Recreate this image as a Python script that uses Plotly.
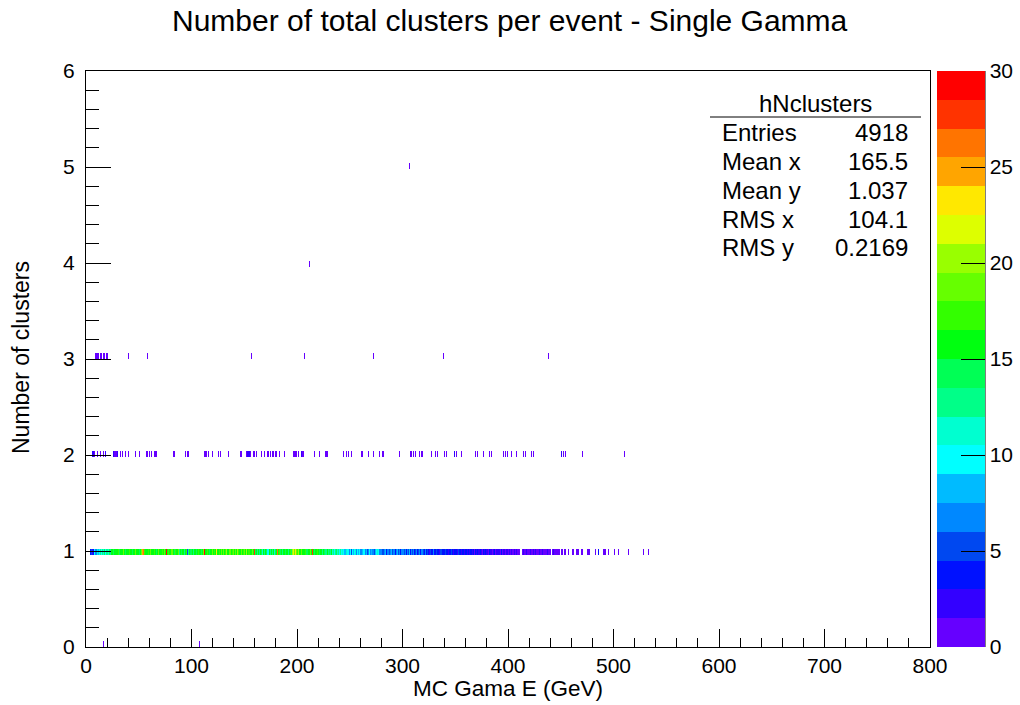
import numpy as np
import plotly.graph_objects as go

# Histogram binning: 1-GeV bins in energy, 0.06-wide bins in cluster multiplicity
E_LO, E_HI, E_NBINS = 0, 800, 800
N_LO, N_HI, N_NBINS = 0, 6, 100

# Entries per 1-GeV bin for events with exactly one cluster (bin i covers [i, i+1) GeV)
one_cluster_counts = [
    0, 0, 0, 0, 3, 5, 2, 4, 9, 6,            # 0-9
    11, 8, 10, 12, 9, 13, 11, 14, 10, 12,    # 10-19
    13, 11, 14, 12, 15, 16, 14, 16, 15, 16,  # 20-29
    17, 14, 16, 15, 15, 18, 16, 14, 16, 15,  # 30-39
    15, 17, 16, 15, 14, 16, 18, 15, 16, 16,  # 40-49
    14, 16, 19, 24, 26, 17, 16, 15, 15, 17,  # 50-59
    16, 18, 16, 15, 17, 16, 14, 16, 19, 16,  # 60-69
    16, 15, 17, 16, 18, 16, 29, 16, 17, 15,  # 70-79
    16, 19, 16, 14, 17, 16, 15, 18, 13, 16,  # 80-89
    14, 16, 15, 12, 16, 17, 5, 13, 15, 14,   # 90-99
    16, 13, 16, 15, 14, 16, 17, 15, 16, 14,  # 100-109
    16, 18, 30, 16, 15, 17, 16, 14, 16, 18,  # 110-119
    16, 17, 15, 23, 16, 16, 17, 15, 18, 16,  # 120-129
    19, 16, 17, 20, 16, 15, 18, 16, 17, 19,  # 130-139
    16, 18, 16, 20, 17, 15, 16, 19, 16, 17,  # 140-149
    18, 16, 20, 16, 17, 15, 16, 18, 16, 27,  # 150-159
    14, 16, 13, 15, 12, 16, 14, 11, 15, 13,  # 160-169
    15, 14, 10, 15, 12, 16, 13, 15, 11, 14,  # 170-179
    16, 26, 15, 17, 14, 16, 13, 16, 15, 14,  # 180-189
    16, 13, 15, 17, 14, 20, 22, 18, 23, 19,  # 190-199
    17, 20, 16, 16, 18, 15, 16, 16, 17, 14,  # 200-209
    16, 15, 18, 16, 28, 16, 14, 16, 15, 17,  # 210-219
    16, 14, 16, 15, 13, 16, 14, 12, 15, 13,  # 220-229
    14, 12, 15, 11, 13, 10, 12, 14, 11, 13,  # 230-239
    10, 12, 9, 11, 10, 8, 11, 9, 10, 7,      # 240-249
    9, 5, 10, 8, 9, 11, 7, 9, 8, 10,         # 250-259
    7, 6, 8, 9, 6, 8, 5, 7, 9, 6,            # 260-269
    8, 6, 7, 5, 8, 10, 11, 9, 7, 6,          # 270-279
    7, 5, 6, 8, 4, 6, 7, 5, 6, 8,            # 280-289
    5, 7, 6, 4, 6, 8, 5, 6, 4, 7,            # 290-299
    6, 5, 7, 4, 6, 5, 8, 4, 6, 5,            # 300-309
    7, 4, 5, 6, 3, 5, 7, 4, 6, 5,            # 310-319
    4, 6, 3, 5, 4, 2, 5, 3, 4, 6,            # 320-329
    3, 4, 5, 3, 4, 2, 5, 4, 3, 4,            # 330-339
    5, 3, 4, 2, 4, 3, 5, 3, 2, 4,            # 340-349
    3, 4, 2, 5, 3, 2, 4, 3, 2, 3,            # 350-359
    4, 2, 3, 2, 4, 3, 2, 3, 1, 3,            # 360-369
    2, 3, 2, 4, 2, 1, 3, 2, 3, 2,            # 370-379
    2, 1, 3, 2, 2, 1, 2, 3, 1, 2,            # 380-389
    2, 2, 1, 3, 1, 2, 2, 1, 2, 2,            # 390-399
    1, 2, 1, 2, 1, 1, 2, 1, 2, 1,            # 400-409
    1, 0, 0, 1, 2, 1, 1, 2, 1, 1,            # 410-419
    1, 2, 1, 1, 2, 1, 2, 1, 1, 2,            # 420-429
    1, 1, 2, 1, 1, 1, 1, 2, 1, 1,            # 430-439
    1, 0, 1, 2, 1, 1, 1, 1, 1, 0,            # 440-449
    1, 1, 0, 1, 1, 0, 0, 1, 0, 0,            # 450-459
    0, 1, 1, 0, 1, 1, 1, 0, 0, 1,            # 460-469
    1, 0, 0, 0, 0, 1, 1, 1, 0, 0,            # 470-479
    0, 0, 1, 0, 0, 3, 0, 0, 0, 0,            # 480-489
    1, 1, 1, 0, 0, 1, 0, 0, 0, 0,            # 490-499
    1, 0, 0, 0, 1, 0, 0, 0, 0, 0,            # 500-509
    0, 0, 0, 0, 1, 0, 0, 0, 0, 0,            # 510-519
    0, 0, 0, 0, 0, 0, 0, 0, 1, 0,            # 520-529
    0, 0, 0, 1, 0, 0, 0, 0, 0, 0,            # 530-539
]

# Events with two clusters: energy bin and entries
two_cluster_energy = [
    6, 7, 8, 10, 13, 16, 18, 26, 27, 28, 29, 32, 34, 37, 40, 46, 50, 57, 58, 60,
    62, 64, 65, 66, 82, 83, 94, 96, 97, 112, 113, 114, 116, 119, 125, 127, 135, 146, 147, 152,
    153, 154, 155, 158, 159, 161, 166, 169, 172, 174, 176, 177, 179, 180, 183, 188, 196, 197, 198, 199,
    201, 204, 205, 206, 216, 221, 227, 228, 244, 246, 248, 251, 261, 262, 267, 272, 278, 281, 297, 307,
    308, 310, 312, 316, 318, 327, 331, 333, 339, 341, 349, 351, 355, 369, 371, 376, 382, 384, 395, 397,
    399, 403, 408, 414, 416, 422, 424, 450, 452, 454, 470, 510,
]
two_cluster_counts = [
    2, 2, 1, 1, 1, 1, 2, 2, 1, 1, 2, 1, 1, 1, 1, 1, 1, 1, 1, 1,
    1, 1, 1, 1, 1, 1, 1, 1, 1, 1, 1, 1, 1, 1, 1, 1, 1, 1, 1, 1,
    2, 2, 1, 1, 1, 1, 1, 1, 1, 1, 1, 1, 1, 1, 1, 1, 1, 1, 1, 1,
    1, 2, 1, 1, 1, 1, 1, 1, 1, 1, 1, 1, 1, 1, 1, 1, 1, 1, 1, 1,
    1, 1, 1, 1, 1, 1, 1, 1, 1, 1, 2, 1, 1, 1, 1, 1, 1, 1, 1, 1,
    1, 1, 1, 1, 1, 1, 1, 2, 1, 1, 1, 1,
]

# Events with three clusters (one entry per listed bin)
three_cluster_energy = [9, 10, 11, 13, 14, 16, 17, 19, 20, 40, 58, 156, 207, 272, 338, 438]
# Rare multiplicities
zero_cluster_energy = [16, 107]
four_cluster_energy = [211]
five_cluster_energy = [306]

# Statistics box contents
stats_title = "hNclusters"
stats_labels = ["Entries", "Mean x", "Mean y", "RMS x", "RMS y"]
stats_values = ["4918", "165.5", "1.037", "104.1", "0.2169"]

# 20-level colour palette, low to high
palette = [
    "#6600ff", "#3300ff", "#0011ff", "#0048f0", "#0088ff",
    "#00bbff", "#00ffff", "#00ffd0", "#00ff88", "#00ff55",
    "#00ff10", "#33ff00", "#66ff00", "#99ff00", "#ddff00",
    "#ffe800", "#ffa500", "#ff7400", "#ff3300", "#ff0000",
]

# ---- build the 2D histogram grid ----
dy = (N_HI - N_LO) / N_NBINS
z = np.full((N_NBINS, E_NBINS), np.nan)


def fill(n_clusters, energies, counts):
    row = int(np.floor((n_clusters - N_LO) / dy + 1e-9))
    for e, c in zip(energies, counts):
        if c > 0:
            col = int(e)
            z[row, col] = (0 if np.isnan(z[row, col]) else z[row, col]) + c


fill(1, range(len(one_cluster_counts)), one_cluster_counts)
fill(2, two_cluster_energy, two_cluster_counts)
fill(3, three_cluster_energy, [1] * len(three_cluster_energy))
fill(0, zero_cluster_energy, [1] * len(zero_cluster_energy))
fill(4, four_cluster_energy, [1] * len(four_cluster_energy))
fill(5, five_cluster_energy, [1] * len(five_cluster_energy))

x_edges = np.linspace(E_LO, E_HI, E_NBINS + 1)
y_edges = np.linspace(N_LO, N_HI, N_NBINS + 1)

nlev = len(palette)
colorscale = []
for i, c in enumerate(palette):
    colorscale.append([i / nlev, c])
    colorscale.append([(i + 1) / nlev, c])

FONT = "Liberation Sans, Arial, Helvetica, sans-serif"

# Frame geometry in pixels
W, H = 1020, 705
L, R, T, B = 86, 930, 71, 647
pw, ph = R - L, B - T


def px(xp):
    return (xp - L) / pw


def py(yp):
    return (B - yp) / ph


fig = go.Figure()
fig.add_trace(go.Heatmap(
    x=x_edges, y=y_edges, z=z,
    zmin=0, zmax=30,
    colorscale=colorscale,
    hoverongaps=False,
    colorbar=dict(
        x=px(937), xanchor="left", xpad=0,
        y=0.5, yanchor="middle", ypad=0,
        len=1, lenmode="fraction",
        thickness=48, thicknessmode="pixels",
        outlinewidth=0,
        tick0=0, dtick=5,
        ticks="inside", ticklen=24, tickcolor="black", tickwidth=1,
        tickfont=dict(family=FONT, size=21, color="black"),
    ),
))

axis_common = dict(
    showgrid=False, zeroline=False,
    showline=True, linecolor="black", linewidth=1, mirror=True,
    ticks="inside", tickcolor="black", tickwidth=1,
    tickfont=dict(family=FONT, size=21, color="black"),
)

fig.update_xaxes(
    range=[E_LO, E_HI], tick0=0, dtick=100, ticklen=18,
    minor=dict(ticks="inside", dtick=20, ticklen=9, tickcolor="black"),
    **axis_common,
)
fig.update_yaxes(
    range=[N_LO, N_HI], tick0=0, dtick=1, ticklen=25,
    minor=dict(ticks="inside", dtick=0.2, ticklen=13, tickcolor="black"),
    ticklabelstandoff=6,
    **axis_common,
)

annotations = [
    dict(text="Number of total clusters per event - Single Gamma",
         x=px(510), y=py(21), xref="paper", yref="paper",
         xanchor="center", yanchor="middle", showarrow=False,
         font=dict(family=FONT, size=30, color="black")),
    dict(text="MC Gama E (GeV)",
         x=px(508), y=py(688), xref="paper", yref="paper",
         xanchor="center", yanchor="middle", showarrow=False,
         font=dict(family=FONT, size=22.5, color="black")),
    dict(text="Number of clusters", textangle=-90,
         x=px(21), y=py(358), xref="paper", yref="paper",
         xanchor="center", yanchor="middle", showarrow=False,
         font=dict(family=FONT, size=23, color="black")),
    dict(text=stats_title,
         x=px(815), y=py(103), xref="paper", yref="paper",
         xanchor="center", yanchor="middle", showarrow=False,
         font=dict(family=FONT, size=24, color="black")),
]
for i, (lab, val) in enumerate(zip(stats_labels, stats_values)):
    yy = 132 + 29 * i
    annotations.append(dict(text=lab, x=px(720), y=py(yy), xref="paper", yref="paper",
                            xanchor="left", yanchor="middle", showarrow=False,
                            font=dict(family=FONT, size=24, color="black")))
    annotations.append(dict(text=val, x=px(910), y=py(yy), xref="paper", yref="paper",
                            xanchor="right", yanchor="middle", showarrow=False,
                            font=dict(family=FONT, size=24, color="black")))

shapes = [
    # separator under the statistics title
    dict(type="line", xref="paper", yref="paper",
         x0=px(710), x1=px(921), y0=py(117), y1=py(117),
         line=dict(color="black", width=1)),
    # colour scale axis line
    dict(type="line", xref="paper", yref="paper",
         x0=px(985), x1=px(985), y0=0, y1=1,
         line=dict(color="black", width=1)),
]

fig.update_layout(
    width=W, height=H,
    margin=dict(l=L, r=W - R, t=T, b=H - B, pad=0, autoexpand=False),
    paper_bgcolor="white", plot_bgcolor="white",
    annotations=annotations, shapes=shapes,
    showlegend=False,
)

fig.write_html("out.html")
